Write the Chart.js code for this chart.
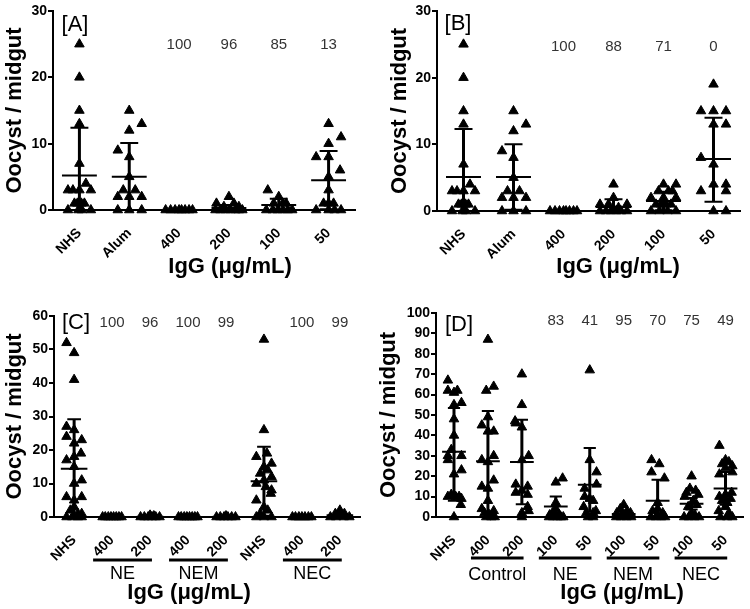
<!DOCTYPE html>
<html>
<head>
<meta charset="utf-8">
<script src="https://cdn.jsdelivr.net/npm/chart.js@4/dist/chart.umd.min.js"></script>
<style>
  body { margin: 0; background: #fff; }
  canvas { position: absolute; }
</style>
</head>
<body>
<canvas id="cA" width="375" height="300" style="left:0;top:0"></canvas>
<canvas id="cB" width="375" height="300" style="left:375px;top:0"></canvas>
<canvas id="cC" width="375" height="309" style="left:0;top:300px"></canvas>
<canvas id="cD" width="375" height="309" style="left:375px;top:300px"></canvas>
<script>
// ---- panel A ----
var catsA = ['NHS', 'Alum', '400', '200', '100', '50'];
var valsA = [
  [25, 20, 15, 13, 7, 4, 3, 3, 3, 3, 1, 1, 1, 1, 0, 0, 0, 0],
  [15, 13, 12, 9, 8, 5, 3, 3, 2, 2, 2, 0, 0, 0],
  [0, 0, 0, 0, 0, 0, 0, 0],
  [2, 1, 1, 0.5, 0.5, 0, 0, 0, 0, 0, 0, 0],
  [3, 2, 1, 1, 1, 0, 0, 0, 0, 0, 0],
  [13, 11, 10, 8, 8, 6, 5, 3, 1, 1, 1, 0, 0, 0, 0]
];
var jitA = [
  [0, 0, 0, 0, 0, 0.13, -0.23, -0.13, 0, 0.23, -0.1, -0.04, 0.04, 0.1, -0.23, -0.02, 0.05, 0.23],
  [0, 0.25, 0, -0.23, 0, 0, -0.12, 0.12, -0.23, 0.25, 0, -0.23, 0, 0.25],
  [-0.27, -0.17, -0.08, 0, 0.05, 0.12, 0.2, 0.27],
  [0, -0.25, 0.1, -0.1, 0.2, -0.27, -0.17, -0.07, 0.03, 0.13, 0.2, 0.27],
  [-0.22, 0, -0.1, 0.08, 0.15, -0.25, -0.12, -0.02, 0.08, 0.18, 0.27],
  [0, 0.25, 0, -0.25, 0, 0.23, 0, 0, -0.1, 0, 0.1, -0.25, 0, 0.12, 0.25]
];
var meanA = [5.2, 5.0, 0, 0.3, 0.75, 4.5];
var hiA = [12.4, 10.1, 0, 0.75, 1.7, 8.9];
var loA = [-2, 0, 0, 0, 0, 0.1];
var pctA = ['', '', '100', '96', '85', '13'];

// ---- panel B ----
var catsB = ['NHS', 'Alum', '400', '200', '100', '50'];
var valsB = [
  [25, 20, 15, 13, 7, 4, 3, 3, 3, 3, 1, 1, 1, 1, 0, 0, 0, 0],
  [15, 13, 12, 9, 8, 5, 3, 3, 2, 2, 2, 0, 0, 0],
  [0, 0, 0, 0, 0, 0, 0, 0],
  [4, 2, 1, 1, 1, 0.5, 0, 0, 0, 0, 0, 0],
  [4, 4, 3, 3, 3, 2, 2, 2, 1, 1, 1, 1, 0, 0, 0, 0],
  [19, 15, 15, 15, 13, 13, 8, 7, 4, 4, 3, 3, 0, 0]
];
var jitB = [
  [0, 0, 0, 0, 0, 0.13, -0.23, -0.13, 0, 0.23, -0.1, -0.04, 0.04, 0.1, -0.23, -0.02, 0.05, 0.23],
  [0, 0.25, 0, -0.23, 0, 0, -0.12, 0.12, -0.23, 0.25, 0, -0.23, 0, 0.25],
  [-0.27, -0.17, -0.08, 0, 0.05, 0.12, 0.2, 0.27],
  [0, 0, -0.27, 0.27, -0.1, 0.1, -0.27, -0.15, -0.05, 0.05, 0.15, 0.27],
  [0, 0.25, -0.1, 0.1, 0.18, -0.25, 0, 0.25, -0.15, -0.05, 0.05, 0.15, -0.25, -0.08, 0.08, 0.25],
  [0, -0.25, 0, 0.25, 0, 0.25, -0.25, 0, 0, 0.25, -0.25, 0.25, 0, 0.25]
];
var meanB = [5.1, 5.1, 0, 0.6, 1.5, 7.8];
var hiB = [12.3, 10, 0, 1.75, 2.9, 14];
var loB = [-2, 0.2, 0, 0, 0.1, 1.4];
var pctB = ['', '', '100', '88', '71', '0'];

// ---- panel C ----
var catsC = ['NHS', '400', '200', '400', '200', 'NHS', '400', '200'];
var valsC = [
  [52, 49, 41, 27, 26, 24, 23, 22, 19, 18, 17, 15, 11, 10, 6, 6, 5, 3, 2, 1, 1, 0, 0, 0, 0],
  [0, 0, 0, 0, 0, 0, 0, 0],
  [0.5, 0.3, 0, 0, 0, 0, 0, 0],
  [0, 0, 0, 0, 0, 0, 0, 0],
  [0.3, 0, 0, 0, 0, 0, 0],
  [53, 26, 19, 18, 16, 15, 14, 13, 12, 11, 10, 9, 8, 7, 5, 3, 2, 1, 0, 0, 0],
  [0, 0, 0, 0, 0, 0, 0],
  [2, 1, 1, 0.5, 0.5, 0, 0, 0, 0]
];
var jitC = [
  [-0.2, 0, 0, -0.2, 0, -0.2, 0.2, 0, 0.18, 0, -0.2, 0, 0.2, 0, -0.2, 0.2, 0, 0, -0.1, 0.1, 0.2, -0.2, -0.05, 0.1, 0.2],
  [-0.25, -0.18, -0.1, -0.03, 0.04, 0.11, 0.18, 0.25],
  [0, 0.1, -0.25, -0.15, -0.05, 0.05, 0.15, 0.25],
  [-0.25, -0.18, -0.1, -0.03, 0.04, 0.11, 0.18, 0.25],
  [0, -0.25, -0.15, -0.05, 0.05, 0.15, 0.25],
  [0, 0, 0.08, -0.2, 0.2, 0, 0.1, -0.1, 0.2, 0, -0.2, 0.05, 0.2, 0.18, -0.2, 0, 0.1, -0.1, -0.2, 0, 0.2],
  [-0.25, -0.17, -0.08, 0, 0.08, 0.17, 0.25],
  [0, -0.12, 0.12, -0.05, 0.05, -0.25, -0.1, 0.1, 0.25]
];
var meanC = [14.4, 0, 0.1, 0, 0.05, 10.7, 0, 0.5];
var hiC = [29.2, 0, 0.3, 0, 0.15, 21, 0, 1.1];
var loC = [-0.4, 0, 0, 0, 0, 0.4, 0, 0];
var pctC = ['', '100', '96', '100', '99', '', '100', '99'];
var groupsC = [['NE', 1, 2], ['NEM', 3, 4], ['NEC', 6, 7]];

// ---- panel D ----
var catsD = ['NHS', '400', '200', '100', '50', '100', '50', '100', '50'];
var valsD = [
  [67, 62, 62, 61, 56, 55, 48, 40, 33, 30, 30, 28, 23, 21, 11, 10, 10, 10, 9, 6, 0],
  [87, 64, 62, 49, 45, 42, 42, 30, 28, 27, 18, 15, 14, 8, 4, 3, 2, 1, 1, 0, 0, 0],
  [70, 55, 47, 46, 44, 30, 28, 16, 15, 13, 12, 11, 5, 3, 2, 0],
  [19, 17, 7, 4, 2, 1, 1, 0, 0, 0, 0, 0],
  [72, 28, 22, 16, 14, 10, 9, 8, 5, 3, 2, 2, 0, 0],
  [6, 4, 3, 2, 2, 1, 1, 0, 0, 0, 0],
  [28, 26, 22, 19, 7, 4, 3, 2, 1, 0, 0, 0, 0],
  [20, 14, 13, 12, 11, 10, 8, 6, 5, 2, 1, 0, 0, 0, 0],
  [35, 28, 27, 26, 25, 24, 22, 21, 12, 11, 10, 9, 8, 7, 5, 3, 2, 0, 0, 0]
];
var jitD = [
  [-0.18, -0.18, 0.1, 0, 0.22, 0, 0, 0, -0.08, -0.18, 0.22, -0.18, 0.22, 0, -0.08, -0.18, 0.05, 0.15, 0.22, 0.2, 0],
  [0, 0.17, -0.05, 0, -0.18, 0, 0.17, 0.17, -0.18, 0, 0.17, -0.18, 0, 0, -0.18, 0.17, -0.1, 0.05, 0.12, -0.05, 0.1, 0.2],
  [0, 0, -0.2, -0.18, 0, 0.2, 0, -0.18, 0.17, 0, -0.18, 0.17, 0.17, 0.2, 0, 0],
  [0.2, 0, 0, 0, -0.1, 0.1, -0.18, -0.2, -0.08, 0.05, 0.15, 0.22],
  [0, 0, 0.2, 0.2, -0.15, -0.15, 0, 0.1, -0.18, 0.18, -0.1, 0.1, -0.05, 0.1],
  [0, -0.1, 0.1, -0.2, 0.2, -0.05, 0.05, -0.22, -0.08, 0.08, 0.22],
  [-0.18, 0.05, -0.18, 0.2, 0, 0, -0.15, 0.15, 0, -0.2, -0.05, 0.1, 0.22],
  [0, -0.05, 0.12, -0.15, 0.2, -0.2, 0.05, 0.15, -0.1, 0, 0.1, -0.22, -0.08, 0.08, 0.22],
  [-0.18, 0, 0.1, -0.1, 0.2, 0, 0.2, -0.18, 0.18, 0, -0.18, 0.15, -0.1, 0.05, 0, -0.2, 0.1, -0.15, 0.05, 0.2]
];
var meanD = [32, 27.3, 27, 5.2, 15.8, 1.5, 8, 6.5, 14];
var hiD = [53.4, 52, 47.7, 10, 33.8, 3, 18.3, 9.3, 22];
var loD = [8, 2.5, 6.3, 0, 2.7, 0, 0, 3.7, 6];
var pctD = ['', '', '', '83', '41', '95', '70', '75', '49'];
var groupsD = [['Control', 1, 2], ['NE', 3, 4], ['NEM', 5, 6], ['NEC', 7, 8]];

var FONT = "'Liberation Sans', Arial, sans-serif";

function makePanel(id, p) {
  var pts = [];
  p.vals.forEach(function (g, i) {
    g.forEach(function (v, k) { pts.push({ x: i + p.jit[i][k], y: v }); });
  });

  var deco = {
    id: 'deco',
    afterDatasetsDraw: function (chart) {
      var ctx = chart.ctx, x = chart.scales.x, y = chart.scales.y, a = chart.chartArea;
      var unit = x.getPixelForValue(1) - x.getPixelForValue(0);
      ctx.save();
      ctx.beginPath();
      ctx.rect(a.left, 0, a.right - a.left, a.bottom);
      ctx.clip();
      ctx.strokeStyle = '#000';
      p.mean.forEach(function (m, i) {
        var cx = x.getPixelForValue(i);
        var pm = y.getPixelForValue(m), ph = y.getPixelForValue(p.hi[i]), pl = y.getPixelForValue(p.lo[i]);
        var w = unit * 0.35, cw = unit * 0.18;
        ctx.lineWidth = 3;
        ctx.beginPath(); ctx.moveTo(cx, ph); ctx.lineTo(cx, pl); ctx.stroke();
        ctx.lineWidth = 2;
        ctx.beginPath();
        ctx.moveTo(cx - w, pm); ctx.lineTo(cx + w, pm);
        ctx.moveTo(cx - cw, ph); ctx.lineTo(cx + cw, ph);
        ctx.moveTo(cx - cw, pl); ctx.lineTo(cx + cw, pl);
        ctx.stroke();
      });
      ctx.restore();

      ctx.save();
      ctx.fillStyle = '#000';
      ctx.textAlign = 'center';
      ctx.textBaseline = 'middle';
      ctx.font = '22px ' + FONT;
      ctx.fillText(p.tag, p.tagX, p.tagY);
      ctx.fillStyle = '#333';
      ctx.font = '15px ' + FONT;
      p.pct.forEach(function (t, i) {
        if (t) ctx.fillText(t, x.getPixelForValue(i), p.pctY);
      });
      ctx.fillStyle = '#000';
      ctx.font = 'bold 22px ' + FONT;
      ctx.fillText('IgG (\u03bcg/mL)', p.titleX, p.titleY);
      if (p.groups) {
        ctx.font = '18px ' + FONT;
        ctx.lineWidth = 3;
        p.groups.forEach(function (g) {
          var x0 = x.getPixelForValue(g[1] - 0.5), x1 = x.getPixelForValue(g[2] + 0.05);
          ctx.beginPath(); ctx.moveTo(x0, p.grpY); ctx.lineTo(x1, p.grpY); ctx.stroke();
          ctx.fillText(g[0], (x0 + x1) / 2, p.grpTextY);
        });
      }
      ctx.restore();
    }
  };

  new Chart(document.getElementById(id), {
    type: 'scatter',
    data: {
      datasets: [{
        data: pts,
        pointStyle: 'triangle',
        radius: 5.5,
        backgroundColor: '#000',
        borderColor: '#000',
        borderWidth: 1,
        clip: false
      }]
    },
    options: {
      responsive: false,
      animation: false,
      events: [],
      layout: { padding: { left: 0, top: p.top, right: p.right, bottom: 0 } },
      plugins: { legend: { display: false }, tooltip: { enabled: false } },
      scales: {
        x: {
          type: 'linear',
          min: -0.53,
          max: p.cats.length - 1 + 0.53,
          afterBuildTicks: function (s) {
            s.ticks = p.cats.map(function (c, i) { return { value: i }; });
          },
          afterFit: function (s) { s.height = p.xH; },
          grid: { display: false },
          border: { color: '#000', width: 2 },
          ticks: {
            autoSkip: false,
            minRotation: 45,
            maxRotation: 45,
            padding: 7,
            color: '#000',
            font: { family: FONT, size: 14, weight: 'bold' },
            callback: function (v) { return p.cats[Math.round(v)]; }
          }
        },
        y: {
          min: 0,
          max: p.yMax,
          afterFit: function (s) { s.width = p.yW; },
          grid: { drawOnChartArea: false, color: '#000', lineWidth: 2, tickLength: 5 },
          border: { color: '#000', width: 2 },
          ticks: {
            stepSize: 10,
            padding: 1,
            color: '#000',
            font: { family: FONT, size: 14, weight: 'bold' }
          },
          title: {
            display: true,
            text: 'Oocyst / midgut',
            color: '#000',
            padding: { top: p.yTitlePad, bottom: 0 },
            font: { family: FONT, size: 22, weight: 'bold', lineHeight: 1.2 }
          }
        }
      }
    },
    plugins: [deco]
  });
}

makePanel('cA', {
  cats: catsA, vals: valsA, jit: jitA, mean: meanA, hi: hiA, lo: loA, pct: pctA,
  yMax: 30, yW: 53, top: 11, right: 20, xH: 90, yTitlePad: 2,
  tag: '[A]', tagX: 75, tagY: 25, pctY: 45, titleX: 230, titleY: 267
});
makePanel('cB', {
  cats: catsB, vals: valsB, jit: jitB, mean: meanB, hi: hiB, lo: loB, pct: pctB,
  yMax: 30, yW: 62, top: 11, right: 10, xH: 89, yTitlePad: 12,
  tag: '[B]', tagX: 83, tagY: 24, pctY: 47, titleX: 243, titleY: 267
});
makePanel('cC', {
  cats: catsC, vals: valsC, jit: jitC, mean: meanC, hi: hiC, lo: loC, pct: pctC,
  yMax: 60, yW: 54, top: 16, right: 15, xH: 92, yTitlePad: 2,
  tag: '[C]', tagX: 76, tagY: 23, pctY: 23, titleX: 189, titleY: 293,
  groups: groupsC, grpY: 260, grpTextY: 274
});
makePanel('cD', {
  cats: catsD, vals: valsD, jit: jitD, mean: meanD, hi: hiD, lo: loD, pct: pctD,
  yMax: 100, yW: 61, top: 13, right: 4, xH: 92, yTitlePad: 1,
  tag: '[D]', tagX: 84, tagY: 25, pctY: 21, titleX: 247, titleY: 293,
  groups: groupsD, grpY: 258, grpTextY: 275
});
</script>
</body>
</html>
